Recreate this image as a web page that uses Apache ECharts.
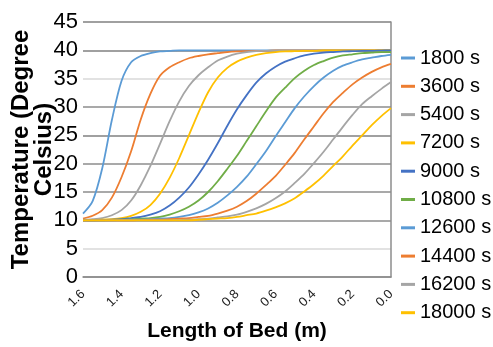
<!DOCTYPE html>
<html>
<head>
<meta charset="utf-8">
<script src="https://cdn.jsdelivr.net/npm/echarts@6/dist/echarts.min.js"></script>
<style>
html,body{margin:0;padding:0;background:#fff;}
#chart{width:493px;height:347px;}
</style>
</head>
<body>
<div id="chart"></div>
<script>
// Length of bed (m), from 1.6 down to 0.0
const lengths = [1.6,1.55,1.5,1.45,1.4,1.35,1.3,1.25,1.2,1.15,1.1,1.05,1.0,0.95,0.9,0.85,0.8,0.75,0.7,0.65,0.6,0.55,0.5,0.45,0.4,0.35,0.3,0.25,0.2,0.15,0.1,0.05,0.0];
const seriesNames = ['1800 s','3600 s','5400 s','7200 s','9000 s','10800 s','12600 s','14400 s','16200 s','18000 s'];
const t1800  = [11.2,13.4,19.2,27.7,34.6,37.9,39.0,39.5,39.8,39.9,40,40,40,40,40,40,40,40,40,40,40,40,40,40,40,40,40,40,40,40,40,40,40];
const t3600  = [10.3,10.8,11.8,14.0,17.6,22.2,27.8,32.3,35.5,37.0,37.9,38.6,39.0,39.3,39.5,39.7,39.8,39.85,39.9,39.9,40,40,40,40,40,40,40,40,40,40,40,40,40];
const t5400  = [10.1,10.2,10.4,10.9,11.8,13.5,16.2,19.6,23.5,27.5,31.0,33.7,35.6,37.0,38.2,38.9,39.4,39.7,39.85,39.9,39.95,40,40,40,40,40,40,40,40,40,40,40,40];
const t7200  = [10.0,10.05,10.1,10.2,10.4,10.8,11.5,12.7,14.7,17.5,21.0,25.0,29.0,32.6,35.2,36.9,38.0,38.7,39.2,39.5,39.7,39.8,39.85,39.9,39.9,40,40,40,40,40,40,40,40];
const t9000  = [10.0,10.0,10.05,10.1,10.2,10.4,10.6,11.0,11.6,12.6,14.0,15.8,18.1,20.7,23.6,26.7,29.6,32.1,34.3,35.9,37.1,38.0,38.6,39.1,39.4,39.6,39.7,39.8,39.85,39.9,39.9,39.95,40];
const t10800 = [10.0,10.0,10.0,10.05,10.1,10.15,10.3,10.4,10.6,11.0,11.6,12.4,13.5,15.0,16.9,19.1,21.4,24.0,26.6,29.2,31.6,33.4,35.1,36.4,37.4,38.1,38.7,39.1,39.3,39.5,39.6,39.7,39.7];
const t12600 = [10.0,10.0,10.0,10.0,10.05,10.1,10.1,10.2,10.3,10.4,10.6,10.9,11.4,12.1,13.1,14.4,15.9,17.7,19.9,22.2,24.8,27.3,29.8,31.9,33.7,35.2,36.4,37.3,37.9,38.4,38.7,39.0,39.2];
const t14400 = [10.0,10.0,10.0,10.0,10.0,10.0,10.05,10.1,10.1,10.2,10.3,10.4,10.6,10.8,11.2,11.7,12.4,13.4,14.7,16.2,17.8,19.8,21.9,24.3,26.6,28.9,30.9,32.5,34.0,35.2,36.2,37.0,37.6];
const t16200 = [10.0,10.0,10.0,10.0,10.0,10.0,10.0,10.0,10.0,10.0,10.05,10.1,10.2,10.3,10.5,10.7,11.0,11.5,12.1,12.9,13.9,15.1,16.6,18.2,20.1,22.1,24.3,26.5,28.6,30.5,31.9,33.2,34.4];
const t18000 = [10.0,10.0,10.0,10.0,10.0,10.0,10.0,10.0,10.0,10.0,10.0,10.0,10.1,10.2,10.3,10.4,10.6,10.9,11.2,11.7,12.3,13.0,13.9,15.1,16.4,17.9,19.6,21.3,23.2,25.0,26.8,28.4,29.8];
const temps = [t1800,t3600,t5400,t7200,t9000,t10800,t12600,t14400,t16200,t18000];
const colors = ['#5B9BD5','#ED7D31','#A5A5A5','#FFC000','#4472C4','#70AD47','#5B9BD5','#ED7D31','#A5A5A5','#FFC000'];
const yTicks = {min:0, max:45, interval:5};
const xTicks = {min:0, max:1.6, interval:0.2};

const chart = echarts.init(document.getElementById('chart'));
const FONT = 'Liberation Sans';
chart.setOption({
  animation:false,
  color: colors,
  textStyle:{fontFamily:FONT},
  grid:{left:83, right:102, top:22, bottom:70, containLabel:false, outerBoundsMode:'none'},
  legend:{
    orient:'vertical', left:401, top:47, padding:0,
    itemWidth:14, itemHeight:3, itemGap:6.3, icon:'rect',
    textStyle:{fontSize:20, color:'#000', lineHeight:22, fontFamily:FONT},
    data: seriesNames
  },
  xAxis:{
    type:'value', inverse:true, min:xTicks.min, max:xTicks.max, interval:xTicks.interval,
    axisLine:{show:true, lineStyle:{color:'#8c8c8c', width:1.5}},
    axisTick:{show:false},
    splitLine:{show:false},
    axisLabel:{rotate:45, fontSize:13, color:'#222', margin:15, formatter:v=>v.toFixed(1)},
    name:'Length of Bed (m)', nameLocation:'middle', nameGap:44, nameMoveOverlap:false,
    nameTextStyle:{fontSize:21, fontWeight:'bold', color:'#000', fontFamily:FONT}
  },
  yAxis:{
    type:'value', min:yTicks.min, max:yTicks.max, interval:yTicks.interval,
    axisLine:{show:true, lineStyle:{color:'#8c8c8c', width:1.5}},
    axisTick:{show:false},
    splitLine:{show:true, lineStyle:{width:1.5, color:['#8c8c8c','#d9d9d9','#8c8c8c','#8c8c8c','#8c8c8c','#808080','#8c8c8c','#d9d9d9','#808080','#808080']}},
    axisLabel:{fontSize:22, color:'#000', margin:5},
    name:'Temperature (Degree\nCelsius)', nameLocation:'middle', nameGap:27, nameMoveOverlap:false,
    nameTextStyle:{fontSize:24, fontWeight:'bold', color:'#000', lineHeight:23, fontFamily:FONT}
  },
  series: seriesNames.map((n,k)=>({
    name:n, type:'line', smooth:0.3, showSymbol:false, symbol:'none',
    lineStyle:{width:1.8, color:colors[k]},
    data: lengths.map((x,i)=>[x, temps[k][i]])
  }))
});
</script>
</body>
</html>
